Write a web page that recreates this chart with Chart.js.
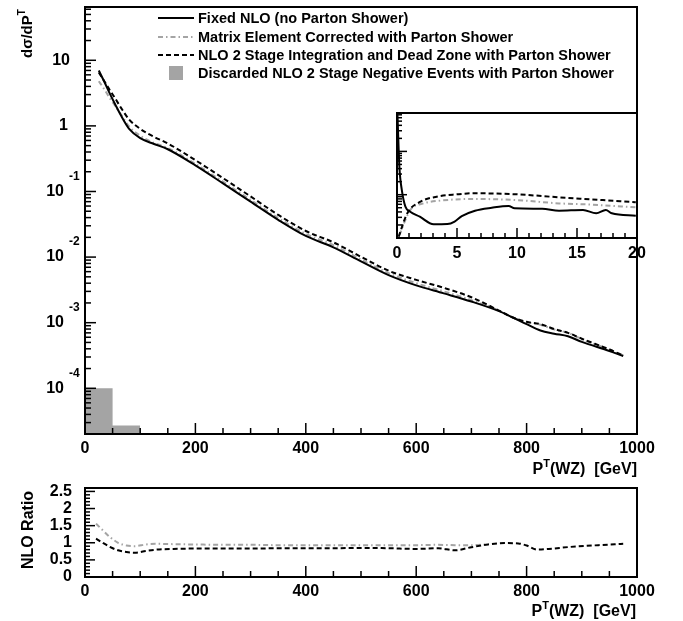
<!DOCTYPE html>
<html>
<head>
<meta charset="utf-8">
<script src="https://cdn.jsdelivr.net/npm/chart.js@4.4.0/dist/chart.umd.min.js"></script>
<style>
  html, body { margin: 0; padding: 0; background: #fff; }
  #wrap { position: relative; width: 683px; height: 621px; }
  canvas { position: absolute; }
</style>
</head>
<body>
<div id="wrap">
  <canvas id="mainChart" width="683" height="480" style="left:0;top:0"></canvas>
  <canvas id="insetChart" width="293" height="170" style="left:390px;top:100px"></canvas>
  <canvas id="ratioChart" width="683" height="141" style="left:0;top:480px"></canvas>
</div>
<script>
// ============================================================
// DATA
// ============================================================
const legendLabels = [
  'Fixed NLO (no Parton Shower)',
  'Matrix Element Corrected with Parton Shower',
  'NLO 2 Stage Integration and Dead Zone with Parton Shower',
  'Discarded NLO 2 Stage Negative Events with Parton Shower'
];

// main panel, dσ/dP^T vs P^T(WZ)
const ptMain      = [25, 35, 45, 55, 65, 80, 100, 125, 150, 200, 250, 300, 350, 400, 450, 500, 550, 600, 650, 700, 750, 775, 800, 825, 850, 875, 900, 950, 975];
const fixedNLO    = [7.0, 4.7, 3.1, 2.1, 1.45, 0.9, 0.65, 0.53, 0.44, 0.25, 0.133, 0.070, 0.037, 0.021, 0.0141, 0.0086, 0.0053, 0.0037, 0.0028, 0.0021, 0.0015, 0.0012, 0.00095, 0.00076, 0.00068, 0.00062, 0.00051, 0.00037, 0.00031];
const meCorrected = [4.8, 3.6, 2.65, 2.0, 1.5, 0.98, 0.71, 0.55, 0.46, 0.263, 0.141, 0.0745, 0.0394, 0.0226, 0.0152, 0.0092, 0.0057, 0.0040, 0.0030, 0.00221, 0.00153, 0.0012, 0.00102, 0.00093, 0.00079, 0.0007, 0.00056, 0.00039, 0.000316];
const nlo2Stage   = [6.5, 4.8, 3.5, 2.6, 1.9, 1.25, 0.90, 0.68, 0.54, 0.30, 0.160, 0.084, 0.044, 0.025, 0.0168, 0.0101, 0.0062, 0.0045, 0.0034, 0.00244, 0.00153, 0.0012, 0.00103, 0.00095, 0.0008, 0.0007, 0.00057, 0.00039, 0.000316];
const histEdges   = [0, 50, 100];
const histValues  = [1.0e-4, 2.7e-5];

// inset, 0-20 GeV
const insetPtFixed = [0.04, 0.2, 0.4, 0.7, 1.1, 1.9, 3.05, 4.2, 4.8, 5.4, 6.5, 7.9, 9.3, 9.8, 12.1, 13.5, 15.5, 16.6, 17.4, 17.9, 19.9];
const insetFixed   = [690, 44, 12.9, 5.3, 4.05, 3.1, 2.07, 2.1, 2.4, 3.2, 4.27, 5.0, 5.5, 4.85, 4.75, 4.27, 4.43, 3.72, 4.43, 3.72, 3.27];
const insetPtME    = [0.2, 1.1, 2.2, 3.6, 6.4, 10, 13.5, 16.2, 19.9];
const insetME      = [1.17, 4.4, 6.3, 7.3, 7.96, 7.5, 6.3, 5.9, 5.1];
const insetPtNLO2  = [0.14, 0.85, 1.96, 3.3, 5, 6.4, 10, 13.5, 16.2, 19.9];
const insetNLO2    = [1.07, 3.7, 6.9, 9.0, 10.2, 10.8, 10.2, 8.7, 7.8, 6.7];

// ratio panel
const ptRatio   = [20, 30, 45, 60, 75, 90, 110, 130, 160, 200, 250, 300, 350, 400, 450, 500, 550, 600, 640, 670, 700, 730, 760, 785, 800, 820, 840, 880, 930, 975];
const ratioNLO2 = [1.12, 1.02, 0.88, 0.78, 0.73, 0.71, 0.76, 0.80, 0.82, 0.83, 0.83, 0.83, 0.84, 0.84, 0.84, 0.85, 0.84, 0.82, 0.84, 0.78, 0.87, 0.95, 0.99, 0.98, 0.92, 0.80, 0.82, 0.88, 0.93, 0.97];
const ratioME   = [1.56, 1.40, 1.17, 1.0, 0.92, 0.90, 0.95, 0.97, 0.96, 0.95, 0.94, 0.94, 0.93, 0.93, 0.93, 0.93, 0.93, 0.93, 0.94, 0.93, 0.93, 0.95, null, null, null, null, null, null, null, null];

// tick labels
const mainXTicks  = [0, 200, 400, 600, 800, 1000];
const mainYDecades = [-4, -3, -2, -1, 0, 1];
const insetXTicks = [0, 5, 10, 15, 20];
const ratioYTicks = [0, 0.5, 1, 1.5, 2, 2.5];

// ============================================================
// STYLE + HELPERS
// ============================================================
const GRAY_LINE = '#a4a4a4';
const HIST_FILL = '#a4a4a4';
const DASH = [5, 3];
const DASHDOT = [5, 3, 1.5, 3];

function font(size) { return 'bold ' + size + 'px "Liberation Sans", Arial, Helvetica, sans-serif'; }

function richWidth(ctx, parts) {
  let w = 0;
  parts.forEach(p => { ctx.font = font(p.size); w += ctx.measureText(p.text).width; });
  return w;
}
function drawRich(ctx, parts, x, y) {
  parts.forEach(p => {
    ctx.font = font(p.size);
    ctx.fillText(p.text, x, y - (p.rise || 0));
    x += ctx.measureText(p.text).width;
  });
}
function seg(ctx, x1, y1, x2, y2) { ctx.beginPath(); ctx.moveTo(x1, y1); ctx.lineTo(x2, y2); ctx.stroke(); }

function logTicks(min, max) {
  const out = [];
  for (let n = Math.floor(Math.log10(min)); n <= Math.ceil(Math.log10(max)); n++) {
    for (let k = 1; k <= 9; k++) {
      const v = k * Math.pow(10, n);
      if (v >= min * 0.999 && v <= max) out.push({ v, major: k === 1 });
    }
  }
  return out;
}

function lineDs(label, xs, ys, color, dash, width) {
  return {
    label,
    data: xs.map((x, i) => ({ x, y: ys[i] })),
    borderColor: color, borderWidth: width, borderDash: dash,
    pointRadius: 0, fill: false, cubicInterpolationMode: 'monotone', spanGaps: false
  };
}

function baseOptions(pad, xMin, xMax, yScale) {
  return {
    responsive: false, animation: false, events: [],
    layout: { padding: pad },
    plugins: { legend: { display: false }, tooltip: { enabled: false } },
    scales: {
      x: { type: 'linear', display: false, min: xMin, max: xMax },
      y: Object.assign({ display: false }, yScale)
    }
  };
}

// ============================================================
// MAIN PANEL
// ============================================================
const mainAxes = {
  id: 'mainAxes',
  afterDatasetsDraw(chart) {
    const { ctx, chartArea: a, scales: { x, y } } = chart;
    ctx.save();
    ctx.strokeStyle = '#000'; ctx.fillStyle = '#000'; ctx.lineWidth = 1.5;
    for (let v = 0; v <= 1000; v += 50) {
      const px = x.getPixelForValue(v);
      seg(ctx, px, a.bottom, px, a.bottom - (mainXTicks.includes(v) ? 11 : 6));
    }
    logTicks(y.min, y.max).forEach(t => {
      const py = y.getPixelForValue(t.v);
      seg(ctx, a.left, py, a.left + (t.major ? 11 : 6), py);
    });
    ctx.lineWidth = 2;
    ctx.strokeRect(a.left, a.top, a.right - a.left, a.bottom - a.top);

    // x labels
    ctx.textAlign = 'center'; ctx.textBaseline = 'alphabetic'; ctx.font = font(16);
    mainXTicks.forEach(v => ctx.fillText(String(v), x.getPixelForValue(v), 453));
    // y labels (10^n)
    ctx.textBaseline = 'middle';
    mainYDecades.forEach(n => {
      const py = y.getPixelForValue(Math.pow(10, n));
      ctx.textAlign = 'right'; ctx.font = font(16);
      if (n === 0) ctx.fillText('1', 68, py);
      else if (n === 1) ctx.fillText('10', 70, py);
      else {
        ctx.fillText('10', 64, py);
        ctx.textAlign = 'left'; ctx.font = font(12);
        ctx.fillText(String(n), 69, py - 15);
      }
    });
    // x title
    ctx.textAlign = 'left'; ctx.textBaseline = 'alphabetic';
    const xt = [{ text: 'P', size: 16 }, { text: 'T', size: 11, rise: 7 }, { text: '(WZ)  [GeV]', size: 16 }];
    drawRich(ctx, xt, 637 - richWidth(ctx, xt), 474);
    // y title
    ctx.save();
    ctx.translate(32, 58); ctx.rotate(-Math.PI / 2);
    drawRich(ctx, [{ text: 'dσ/dP', size: 15 }, { text: 'T', size: 10, rise: 7 }], 0, 0);
    ctx.restore();

    // legend
    const rows = [18, 37, 55, 73];
    ctx.font = font(15);
    const widest = Math.max(...legendLabels.map(s => ctx.measureText(s).width));
    const squeeze = Math.min(1, 416 / widest);
    ctx.textBaseline = 'middle';
    legendLabels.forEach((lbl, i) => {
      const ry = rows[i];
      ctx.save();
      if (i === 0) { ctx.strokeStyle = '#000'; ctx.lineWidth = 2; seg(ctx, 158, ry, 194, ry); }
      if (i === 1) { ctx.strokeStyle = GRAY_LINE; ctx.lineWidth = 2; ctx.setLineDash(DASHDOT); seg(ctx, 158, ry, 194, ry); }
      if (i === 2) { ctx.strokeStyle = '#000'; ctx.lineWidth = 2; ctx.setLineDash(DASH); seg(ctx, 158, ry, 194, ry); }
      if (i === 3) { ctx.fillStyle = HIST_FILL; ctx.fillRect(169, ry - 7, 14, 14); }
      ctx.restore();
      ctx.save();
      ctx.translate(198, ry); ctx.scale(squeeze, 1);
      ctx.font = font(15); ctx.textAlign = 'left'; ctx.fillStyle = '#000';
      ctx.fillText(lbl, 0, 1);
      ctx.restore();
    });
    ctx.restore();
  }
};

const histPoints = histEdges.map((e, i) => ({ x: e, y: histValues[Math.min(i, histValues.length - 1)] }));

new Chart(document.getElementById('mainChart'), {
  type: 'line',
  data: {
    datasets: [
      lineDs(legendLabels[0], ptMain, fixedNLO, '#000', [], 2),
      lineDs(legendLabels[2], ptMain, nlo2Stage, '#000', DASH, 2),
      lineDs(legendLabels[1], ptMain, meCorrected, GRAY_LINE, DASHDOT, 2),
      { label: legendLabels[3], data: histPoints, stepped: 'before', borderWidth: 0, borderColor: HIST_FILL,
        backgroundColor: HIST_FILL, fill: 'start', pointRadius: 0 }
    ]
  },
  options: baseOptions({ left: 85, right: 46, top: 7, bottom: 46 }, 0, 1000,
    { type: 'logarithmic', min: 2.01e-5, max: 64.9 }),
  plugins: [mainAxes]
});

// ============================================================
// INSET (0-20 GeV)
// ============================================================
const insetAxes = {
  id: 'insetAxes',
  afterDatasetsDraw(chart) {
    const { ctx, chartArea: a, scales: { x, y } } = chart;
    ctx.save();
    ctx.strokeStyle = '#000'; ctx.fillStyle = '#000'; ctx.lineWidth = 1.5;
    for (let v = 0; v <= 20; v += 1) {
      const px = x.getPixelForValue(v);
      seg(ctx, px, a.bottom, px, a.bottom - (insetXTicks.includes(v) ? 10 : 5));
    }
    logTicks(y.min, y.max).forEach(t => {
      const py = y.getPixelForValue(t.v);
      seg(ctx, a.left, py, a.left + (t.major ? 10 : 5), py);
    });
    ctx.lineWidth = 2;
    ctx.strokeRect(a.left, a.top, a.right - a.left, a.bottom - a.top);
    ctx.textAlign = 'center'; ctx.textBaseline = 'alphabetic'; ctx.font = font(16);
    insetXTicks.forEach(v => ctx.fillText(String(v), x.getPixelForValue(v), a.bottom + 20));
    ctx.restore();
  }
};

new Chart(document.getElementById('insetChart'), {
  type: 'line',
  data: {
    datasets: [
      lineDs(legendLabels[0], insetPtFixed, insetFixed, '#000', [], 2),
      lineDs(legendLabels[2], insetPtNLO2, insetNLO2, '#000', DASH, 2),
      lineDs(legendLabels[1], insetPtME, insetME, GRAY_LINE, DASHDOT, 2)
    ]
  },
  options: baseOptions({ left: 7, right: 46, top: 13, bottom: 32 }, 0, 20,
    { type: 'logarithmic', min: 1, max: 771 }),
  plugins: [insetAxes]
});

// ============================================================
// RATIO PANEL
// ============================================================
const ratioAxes = {
  id: 'ratioAxes',
  afterDatasetsDraw(chart) {
    const { ctx, chartArea: a, scales: { x, y } } = chart;
    ctx.save();
    ctx.strokeStyle = '#000'; ctx.fillStyle = '#000'; ctx.lineWidth = 1.5;
    for (let v = 0; v <= 1000; v += 50) {
      const px = x.getPixelForValue(v);
      seg(ctx, px, a.bottom, px, a.bottom - (mainXTicks.includes(v) ? 11 : 6));
    }
    for (let k = 0; k <= 25; k++) {
      const py = y.getPixelForValue(k / 10);
      seg(ctx, a.left, py, a.left + (k % 5 === 0 ? 10 : 5), py);
    }
    ctx.lineWidth = 2;
    ctx.strokeRect(a.left, a.top, a.right - a.left, a.bottom - a.top);

    ctx.textAlign = 'center'; ctx.textBaseline = 'alphabetic'; ctx.font = font(16);
    mainXTicks.forEach(v => ctx.fillText(String(v), x.getPixelForValue(v), 116));
    ctx.textAlign = 'right'; ctx.textBaseline = 'middle'; ctx.font = font(16);
    ratioYTicks.forEach(v => ctx.fillText(String(v), 72, y.getPixelForValue(v)));

    ctx.textAlign = 'left'; ctx.textBaseline = 'alphabetic';
    const xt = [{ text: 'P', size: 16 }, { text: 'T', size: 11, rise: 7 }, { text: '(WZ)  [GeV]', size: 16 }];
    drawRich(ctx, xt, 636 - richWidth(ctx, xt), 136);

    ctx.save();
    ctx.translate(33, 50); ctx.rotate(-Math.PI / 2);
    const yt = [{ text: 'NLO Ratio', size: 16 }];
    drawRich(ctx, yt, -richWidth(ctx, yt) / 2, 0);
    ctx.restore();
    ctx.restore();
  }
};

new Chart(document.getElementById('ratioChart'), {
  type: 'line',
  data: {
    datasets: [
      lineDs(legendLabels[2], ptRatio, ratioNLO2, '#000', DASH, 2),
      lineDs(legendLabels[1], ptRatio, ratioME, GRAY_LINE, DASHDOT, 2)
    ]
  },
  options: baseOptions({ left: 85, right: 46, top: 8, bottom: 44 }, 0, 1000,
    { type: 'linear', min: 0, max: 2.6 }),
  plugins: [ratioAxes]
});
</script>
</body>
</html>
